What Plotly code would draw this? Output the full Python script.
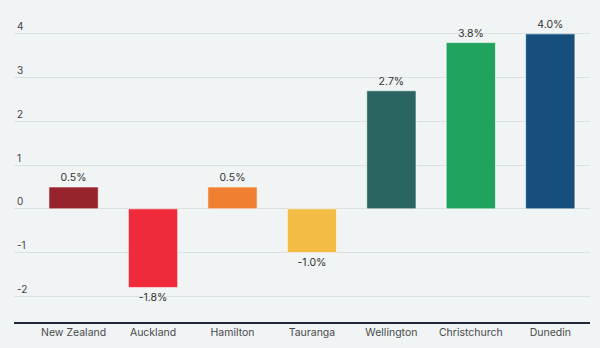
import plotly.graph_objects as go

cities = ["New Zealand", "Auckland", "Hamilton", "Tauranga", "Wellington", "Christchurch", "Dunedin"]
values = [0.5, -1.8, 0.5, -1.0, 2.7, 3.8, 4.0]
colors = ["#97232c", "#ee2a3b", "#f07f32", "#f3bc45", "#2b6561", "#1fa35d", "#164f7d"]
ytick_vals = [-2, -1, 0, 1, 2, 3, 4]

fig = go.Figure(go.Bar(
    x=cities, y=values,
    marker=dict(color=colors, line=dict(color="#ffffff", width=0.6)),
    width=0.62,
    text=[f"{v:.1f}%" for v in values],
    textposition="outside",
    textfont=dict(size=10.5, color="#333333", family="Inter"),
    cliponaxis=False,
))

fig.update_layout(
    width=600, height=348,
    margin=dict(l=14, r=10, t=12, b=26),
    paper_bgcolor="#f0f4f5", plot_bgcolor="#f0f4f5",
    font=dict(family="Inter", size=10.5, color="#444444"),
    showlegend=False,
    bargap=0.38,
)
fig.update_xaxes(
    range=[-0.75, 6.5], showgrid=False, showline=True, linecolor="#1f2a36", linewidth=1.5,
    ticks="", tickfont=dict(size=10.5, color="#4a4a4a"),
)
fig.update_yaxes(
    range=[-2.586, 4.5], tickvals=ytick_vals, ticktext=[str(v) for v in ytick_vals],
    ticklabelposition="inside top", showgrid=True, gridcolor="#dbe1e3", gridwidth=1,
    zeroline=False, showline=False, tickfont=dict(size=10, color="#444444"),
)

fig.write_html("out.html")
